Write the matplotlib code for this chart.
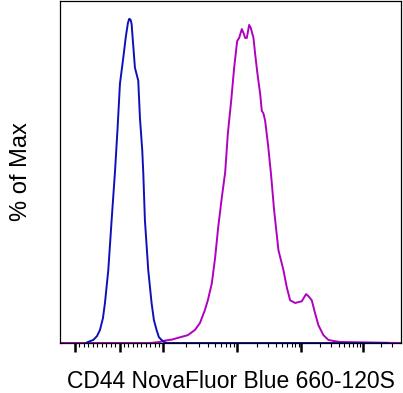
import numpy as np
import matplotlib
matplotlib.use("Agg")
import matplotlib.pyplot as plt

plt.rcParams["font.family"] = ["Liberation Sans", "DejaVu Sans"]

# display channel (0-1024) vs % of max
blue_x = [78, 84, 100, 111, 120, 129, 135, 145, 155, 165, 173, 180, 190, 198,
          204, 208, 212, 215, 220, 225, 235, 240, 247, 250, 255, 265, 275, 282,
          290, 297, 305, 312, 321, 985]
blue_y = [0, 0.3, 0.9, 2.0, 3.8, 7.3, 11.7, 21.3, 35.9, 49.9, 63.0, 75.8, 83.4, 89.8,
          93.6, 94.8, 94.5, 93.3, 86.9, 80.5, 76.7, 65.9, 56.3, 49.9, 35.9, 21.3, 11.7, 6.7,
          3.8, 1.7, 0.9, 0.3, 0, 0]

magenta_x = [0, 270, 300, 315, 336, 354, 384, 405, 420, 435, 444, 456, 466, 475,
             486, 496, 504, 514, 523, 532, 538, 546, 552, 556, 561, 568, 573, 581,
             586, 593, 601, 606, 611, 616, 625, 634, 643, 656, 671, 681, 691, 706,
             726, 739, 746, 756, 766, 776, 791, 806, 821, 841, 1024]
magenta_y = [0, 0, 0.3, 0.7, 1.0, 1.5, 2.3, 3.8, 5.8, 9.6, 12.5, 17.5, 25.1, 33.8,
             42.6, 49.9, 61.2, 70.8, 80.5, 88.3, 89.2, 91.8, 90.4, 89.2, 89.2, 93.0, 92.1, 89.2,
             84.5, 78.7, 72.9, 67.9, 67.1, 65.0, 57.7, 49.0, 38.8, 27.1, 21.3, 16.3, 12.5, 11.7,
             12.2, 14.3, 13.7, 12.5, 8.7, 5.2, 2.3, 0.9, 0.6, 0.3, 0]

# logicle axis: channel position of -10^3, 0, 10^3 ... 10^6
major_ticks = [45, 179, 310, 533, 725, 910]
x_label = "CD44 NovaFluor Blue 660-120S"
y_label = "% of Max"

# minor ticks: linear near zero, log inside each decade
minor_ticks = []
for m in range(1, 10):
    minor_ticks.append(major_ticks[1] - (major_ticks[1] - major_ticks[0]) * m / 10)
    minor_ticks.append(major_ticks[1] + (major_ticks[2] - major_ticks[1]) * m / 10)
for k in range(2, 5):
    for m in range(2, 10):
        minor_ticks.append(major_ticks[k] + (major_ticks[k + 1] - major_ticks[k]) * np.log10(m))
for m in range(2, 4):
    minor_ticks.append(major_ticks[5] + 184 * np.log10(m))

fig = plt.figure(figsize=(4.03, 3.93), dpi=100)
ax = fig.add_axes([60 / 403, 50 / 393, 341 / 403, 342 / 393])

ax.plot(magenta_x, magenta_y, color="#b000c0", lw=1.4)
ax.plot(blue_x, blue_y, color="#1010b8", lw=1.4)

ax.set_xlim(0, 1024)
ax.set_ylim(0, 100)
ax.set_xticks(major_ticks)
ax.set_xticks(minor_ticks, minor=True)
ax.set_xticklabels([])
ax.set_yticks([])
ax.tick_params(axis="x", which="major", direction="out", length=6.5, width=1.8)
ax.tick_params(axis="x", which="minor", direction="out", length=3, width=0.8)
for s in ax.spines.values():
    s.set_linewidth(0.9)

ax.set_xlabel(x_label, fontsize=16.5, labelpad=9.5)
ax.set_ylabel(y_label, fontsize=17, labelpad=20)

fig.savefig("out.png", dpi=100)
